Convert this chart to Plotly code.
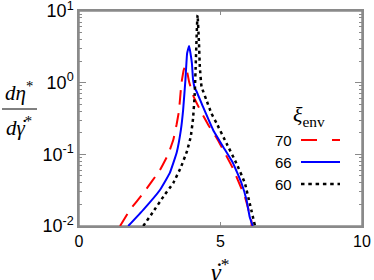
import plotly.graph_objects as go

# ---- data ----
x_tick_vals = [0, 5, 10]
x_tick_text = ["0", "5", "10"]
y_tick_vals = [0.01, 0.1, 1, 10]
y_tick_text = ["10<sup>-2</sup>", "10<sup>-1</sup>", "10<sup>0</sup>", "10<sup>1</sup>"]
y_minor_vals = [m * d for d in (0.01, 0.1, 1) for m in range(2, 10)]

series_names = ["70", "66", "60"]

x70 = [1.45, 1.80, 2.27, 2.86, 3.15, 3.33, 3.45, 3.53, 3.62, 3.70, 3.75, 3.81,
       3.89, 4.05, 4.28, 4.57, 4.87, 5.15, 5.43, 5.61, 5.86, 5.96, 6.09, 6.10]
y70 = [0.0100, 0.0168, 0.0286, 0.0605, 0.100, 0.158, 0.263, 0.398, 0.98, 1.50,
       1.71, 1.50, 1.03, 0.638, 0.416, 0.257, 0.168, 0.105, 0.0646, 0.0440,
       0.0257, 0.0186, 0.0120, 0.0100]

x66 = [1.74, 2.27, 2.86, 3.21, 3.45, 3.60, 3.68, 3.76, 3.82, 3.89, 3.94, 3.99,
       4.03, 4.09, 4.15, 4.38, 4.74, 5.09, 5.44, 5.74, 5.92, 6.03, 6.14]
y66 = [0.0100, 0.0168, 0.0318, 0.0551, 0.105, 0.219, 0.417, 1.09, 2.57, 3.25,
       2.57, 1.86, 1.10, 0.84, 0.76, 0.462, 0.219, 0.128, 0.0759, 0.0398,
       0.0231, 0.0135, 0.0100]

x60 = [2.27, 2.62, 3.00, 3.33, 3.60, 3.82, 3.95, 4.03, 4.09, 4.13, 4.17, 4.19,
       4.24, 4.27, 4.33, 4.50, 4.68, 4.86, 5.21, 5.56, 5.86, 6.03, 6.22]
y60 = [0.0100, 0.0158, 0.0263, 0.0398, 0.0661, 0.112, 0.178, 0.316, 0.708,
       2.07, 6.31, 8.79, 3.55, 1.66, 0.879, 0.575, 0.372, 0.272, 0.143,
       0.0752, 0.0398, 0.0209, 0.0100]

colors = ["#ff0000", "#0000ff", "#000000"]
dashes = ["14px,9px", "solid", "3px,3.5px"]
widths = [2, 2, 2.5]
legend_dashes = ["16px,15px", "solid", "3.5px,3.8px"]

fig = go.Figure()
for xs, ys, c, d, w, n in zip([x70, x66, x60], [y70, y66, y60], colors, dashes, widths, series_names):
    fig.add_trace(go.Scatter(x=xs, y=ys, mode="lines", name=n,
                             line=dict(color=c, dash=d, width=w, shape="spline", smoothing=0.3),
                             showlegend=False))

frame = "#8a8a8a"
fig.update_layout(
    width=374, height=280,
    margin=dict(l=79, r=12, t=11, b=54),
    paper_bgcolor="white", plot_bgcolor="white",
    font=dict(family="Liberation Sans, Arial, sans-serif", color="black"),
    xaxis=dict(range=[0, 10], tickmode="array", tickvals=x_tick_vals, ticktext=x_tick_text,
               ticks="inside", ticklen=4, tickcolor=frame, showgrid=False, zeroline=False,
               showline=True, linecolor=frame, linewidth=1.5, mirror="ticks",
               tickfont=dict(size=16), automargin=False, ticklabeloverflow="allow"),
    yaxis=dict(type="log", range=[-2, 1], tickmode="array", tickvals=y_tick_vals, ticktext=y_tick_text,
               ticks="inside", ticklen=7, tickcolor=frame, showgrid=False, zeroline=False,
               showline=True, linecolor=frame, linewidth=1.5, mirror="ticks",
               tickfont=dict(size=18), automargin=False, ticklabeloverflow="allow",
               minor=dict(ticks="inside", ticklen=3, tickcolor=frame, tickmode="array",
                          tickvals=y_minor_vals, showgrid=False)),
)

math_font = dict(family="Liberation Serif, serif", size=21, color="black")

def px_to_paper(px, py):
    return (px - 79) / 283.0, (226 - py) / 215.0

def add_text(anns, text, px, py, font, xanchor="center"):
    ax_, ay_ = px_to_paper(px, py)
    anns.append(dict(text=text, x=ax_, y=ay_, xref="paper", yref="paper", showarrow=False,
                     font=font, xanchor=xanchor, yanchor="middle"))

annotations = []
# y-axis label as a fraction
add_text(annotations, "<i>dη</i><sup>*</sup>", 19, 91, math_font)
add_text(annotations, "<i>dγ</i><sup>*</sup>", 19, 126, math_font)
add_text(annotations, "˙", 24, 126, dict(family="Liberation Serif, serif", size=22, color="black"))
# x-axis label
add_text(annotations, "<i>γ</i><sup>*</sup>", 220, 270,
         dict(family="Liberation Serif, serif", size=25, color="black"))
add_text(annotations, "˙", 219, 271, dict(family="Liberation Serif, serif", size=26, color="black"))
# legend title
add_text(annotations, "<i>ξ</i><sub>env</sub>", 309, 116,
         dict(family="Liberation Serif, serif", size=22, color="black"))

shapes = [dict(type="rect", xref="paper", yref="paper", x0=0, x1=1, y0=0, y1=1,
               line=dict(color=frame, width=1.5), layer="below")]
x0p, y0p = px_to_paper(2, 109)
x1p, _ = px_to_paper(37, 109)
shapes.append(dict(type="line", xref="paper", yref="paper", x0=x0p, x1=x1p, y0=y0p, y1=y0p,
                   line=dict(color="black", width=1)))

legend_rows = [140, 162, 184]
for name, c, d, w, row in zip(series_names, colors, legend_dashes, widths, legend_rows):
    add_text(annotations, name, 294, row, dict(size=15, color="black"), xanchor="right")
    sx0, sy = px_to_paper(301, row)
    sx1, _ = px_to_paper(340, row)
    shapes.append(dict(type="line", xref="paper", yref="paper", x0=sx0, x1=sx1, y0=sy, y1=sy,
                       line=dict(color=c, dash=d, width=w)))

fig.update_layout(annotations=annotations, shapes=shapes)
fig.write_html("out.html", config={"displayModeBar": False},
               post_script="document.body.style.margin='0';document.body.style.padding='0';")
